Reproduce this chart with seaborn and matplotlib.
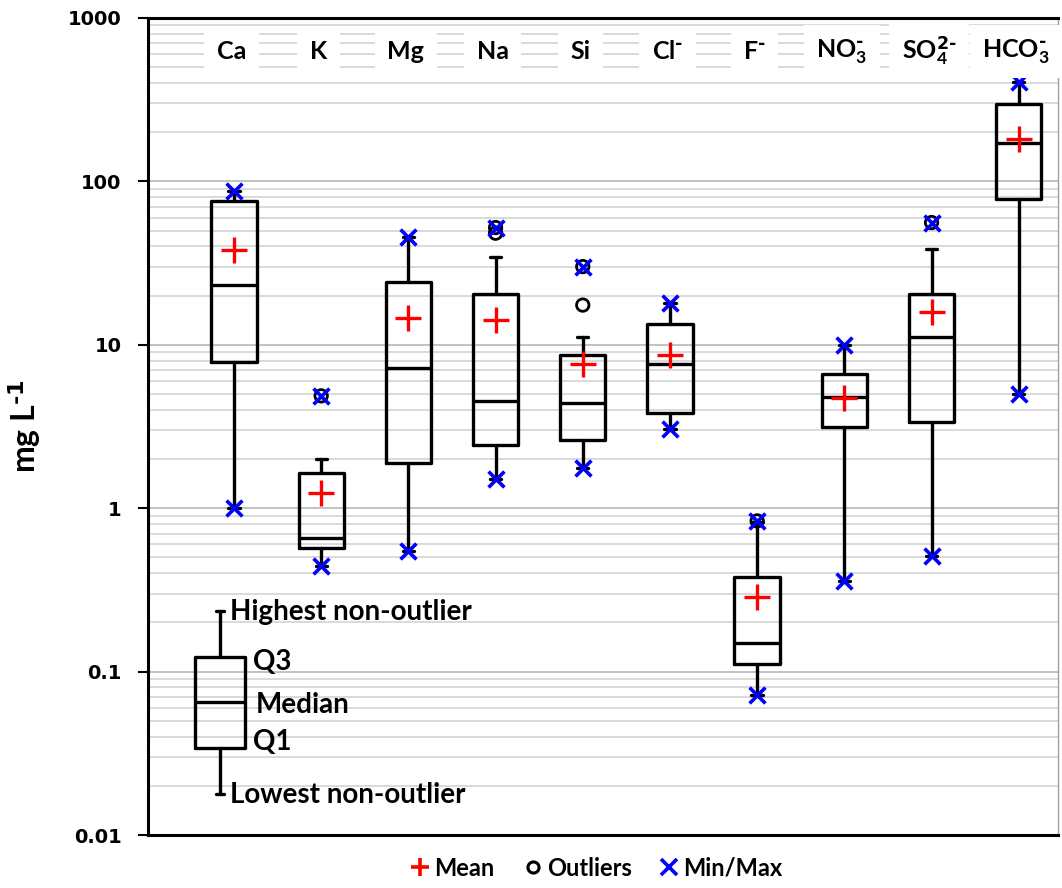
import numpy as np
import pandas as pd
import matplotlib
matplotlib.use('Agg')
import matplotlib.pyplot as plt
import seaborn as sns
from matplotlib.lines import Line2D
from matplotlib.ticker import LogLocator, NullFormatter

# ion labels
ions = ['Ca', 'K', 'Mg', 'Na', 'Si', r'Cl$^{\text{-}}$', r'F$^{\text{-}}$', r'NO$_3^{\text{-}}$',
        r'SO$_4^{\text{2-}}$', r'HCO$_3^{\text{-}}$']
# box stats (mg/L)
whislo = [1.0, 0.443, 0.548, 1.50, 1.77, 3.04, 0.072, 0.359, 0.51, 4.99]
q1 = [7.86, 0.57, 1.89, 2.43, 2.62, 3.8, 0.112, 3.12, 3.37, 77.8]
med = [23.3, 0.66, 7.26, 4.5, 4.43, 7.6, 0.149, 4.8, 11.2, 171]
q3 = [75.4, 1.64, 24.3, 20.4, 8.63, 13.4, 0.38, 6.67, 20.6, 297]
whishi = [87.5, 2.01, 45.4, 34.5, 11.2, 18.0, 0.82, 10.0, 38.8, 403]
means = [38.1, 1.24, 14.5, 14.2, 7.6, 8.67, 0.288, 4.71, 15.8, 181]
mins = [1.0, 0.443, 0.548, 1.50, 1.77, 3.04, 0.072, 0.359, 0.51, 4.99]
maxs = [87.5, 4.87, 45.4, 52.2, 30.1, 18.0, 0.836, 10.0, 56.0, 403]
# outliers (index of ion, value)
out_idx = [1, 3, 3, 4, 4, 6, 8]
out_val = [4.87, 48.2, 52.2, 17.5, 30.1, 0.836, 56.0]
# explanation box
key_vals = [0.0179, 0.0343, 0.0647, 0.123, 0.235]
key_text = ['Lowest non-outlier', 'Q1', 'Median', 'Q3', 'Highest non-outlier']

sns.set_style('white')
plt.rcParams['font.family'] = ['Lato', 'DejaVu Sans']
plt.rcParams['font.weight'] = 'bold'
plt.rcParams['mathtext.default'] = 'regular'
plt.rcParams['text.color'] = 'black'
plt.rcParams['axes.labelcolor'] = 'black'
plt.rcParams['ytick.color'] = 'black'

df = pd.DataFrame({'x': np.arange(len(ions)), 'mean': means, 'min': mins, 'max': maxs})
dfo = pd.DataFrame({'x': out_idx, 'val': out_val})

fig = plt.figure(figsize=(10.62, 8.88), dpi=100)
ax = fig.add_axes([148 / 1062, 1 - 835 / 888, 910 / 1062, 817 / 888])

ax.set_yscale('log')
ax.set_ylim(0.01, 1000)
ax.set_xlim(-0.986, 9.45)

# grid
ax.yaxis.set_minor_locator(LogLocator(base=10, subs=np.arange(2, 10)))
ax.yaxis.set_minor_formatter(NullFormatter())
ax.grid(which='major', axis='y', color='#bdbdbd', lw=1.3)
ax.grid(which='minor', axis='y', color='#cfcfcf', lw=1.1)
ax.grid(which='major', axis='x', visible=False)
ax.set_axisbelow(True)

# boxes
stats = []
for i in range(len(ions)):
    stats.append({'whislo': whislo[i], 'q1': q1[i], 'med': med[i], 'q3': q3[i], 'whishi': whishi[i]})
lp = dict(color='black', lw=2.4)
ax.bxp(stats, positions=np.arange(len(ions)), widths=0.52, capwidths=0.13, showfliers=False,
       boxprops=lp, whiskerprops=lp, capprops=lp, medianprops=lp, manage_ticks=False)

# explanation box
kx = -0.16
ax.bxp([{'whislo': key_vals[0], 'q1': key_vals[1], 'med': key_vals[2], 'q3': key_vals[3], 'whishi': key_vals[4]}],
       positions=[kx], widths=0.57, capwidths=0.1, showfliers=False,
       boxprops=lp, whiskerprops=lp, capprops=lp, medianprops=lp, manage_ticks=False)
kxs = [-0.05, 0.215, 0.245, 0.215, -0.05]
kys = [0.0176, 0.037, 0.0623, 0.114, 0.232]
for t, xx, yy in zip(key_text, kxs, kys):
    ax.text(xx, yy, t, fontsize=20, fontweight='bold', ha='left', va='center')

# markers
sns.scatterplot(data=dfo, x='x', y='val', ax=ax, marker='o', s=80, facecolor='none',
                edgecolor='black', linewidth=2, zorder=4, legend=False)
sns.scatterplot(data=df, x='x', y='mean', ax=ax, marker='+', s=330, color='red',
                linewidth=2.4, zorder=5, legend=False)
sns.scatterplot(data=df, x='x', y='min', ax=ax, marker='x', s=130, color='blue',
                linewidth=2.6, zorder=6, legend=False)
sns.scatterplot(data=df, x='x', y='max', ax=ax, marker='x', s=130, color='blue',
                linewidth=2.6, zorder=6, legend=False)

# ion names on top
for i, name in enumerate(ions):
    ax.text(i - 0.03, 0.959, name, transform=ax.get_xaxis_transform(), fontsize=18, fontweight='bold',
            ha='center', va='center', zorder=7,
            bbox=dict(boxstyle='square,pad=0.5', fc='white', ec='none'))

# axes
ax.set_xticks([])
ax.set_xlabel('')
ax.set_yticks([0.01, 0.1, 1, 10, 100, 1000])
ax.set_yticklabels(['0.01', '0.1', '1', '10', '100', '1000'], family='DejaVu Sans',
                   fontweight='bold', fontsize=14)
ax.tick_params(axis='y', which='major', direction='out', length=7, width=1.5, left=True, pad=12)
ax.tick_params(axis='y', which='minor', left=False)
for s in ['left', 'bottom', 'top']:
    ax.spines[s].set_color('black')
    ax.spines[s].set_linewidth(2.2)
ax.spines['right'].set_color('#a0a0a0')
ax.spines['right'].set_linewidth(1)

ax.set_ylabel(r'mg L$^{\text{-1}}$', fontsize=23, fontweight='bold')
ax.yaxis.set_label_coords(-0.115, 0.5)

handles = [
    Line2D([], [], ls='none', marker='+', color='red', ms=13, mew=2.6),
    Line2D([], [], ls='none', marker='o', mfc='none', mec='black', ms=8, mew=2.2),
    Line2D([], [], ls='none', marker='x', color='blue', ms=11, mew=2.6),
]
fig.legend(handles, ['Mean', 'Outliers', 'Min/Max'], loc='center', bbox_to_anchor=(0.562, 0.0225),
           ncol=3, frameon=False, handlelength=0.8, handletextpad=0.2,
           columnspacing=1.2, prop={'weight': 'bold', 'size': 17})

fig.savefig('out.png', dpi=100)
